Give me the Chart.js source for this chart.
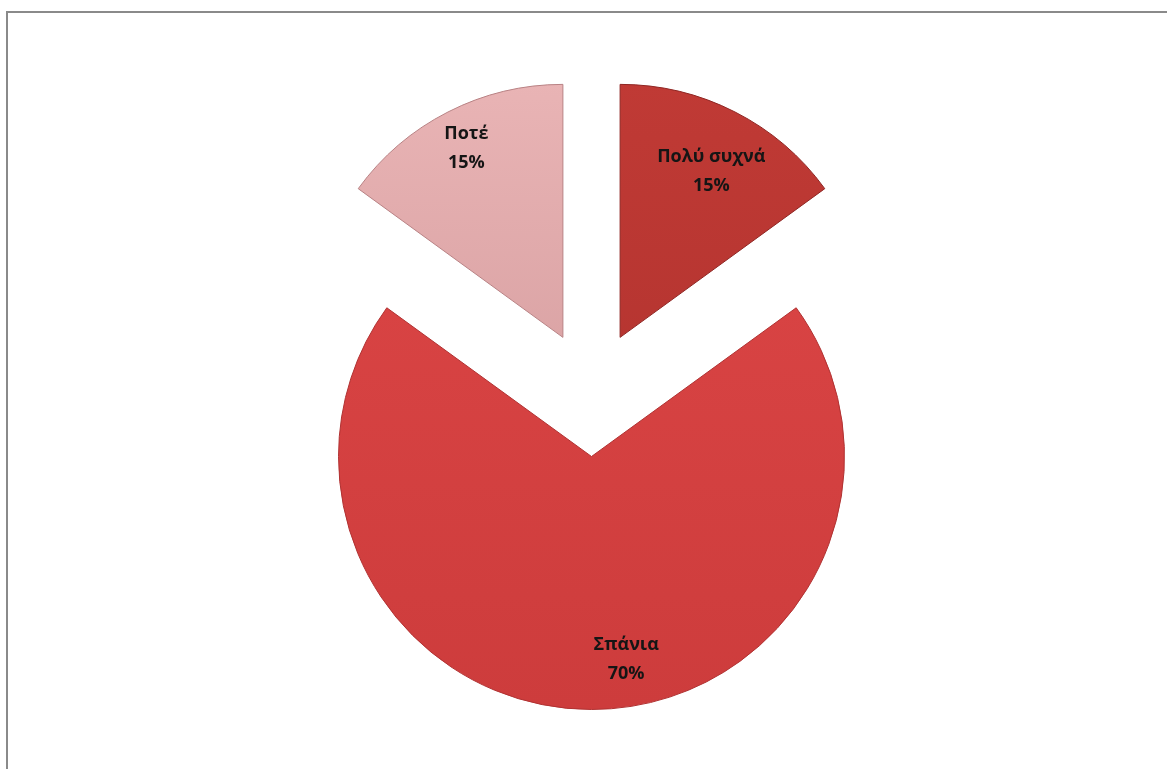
<!DOCTYPE html>
<html lang="el">
<head>
  <meta charset="UTF-8">
  <title>Συχνότητα</title>
  <script src="https://cdn.jsdelivr.net/npm/chart.js"></script>
  <style>
    html, body { margin: 0; padding: 0; background: #fff; }
    canvas { display: block; }
  </style>
</head>
<body>
  <canvas id="pieChart" width="1167" height="769"></canvas>

  <script>
    // Data
    const categories = ['Πολύ συχνά', 'Σπάνια', 'Ποτέ'];
    const values = [15, 70, 15];

    // Slice colours: top shade, bottom shade, edge
    const topColors = ['#c03a35', '#de4747', '#e9b4b5'];
    const bottomColors = ['#aa2f2b', '#cd3c3c', '#c98f91'];
    const edgeColors = ['#8f2623', '#b03232', '#b88284'];

    const explode = 63;

    // label placement: fraction of radius, angle shift (radians) from mid angle
    const labelPlace = [
      { r: 0.75, da: 0.03 },
      { r: 0.81, da: -0.17 },
      { r: 0.84, da: 0.0 }
    ];

    function sliceGradient(context) {
      const chart = context.chart;
      const area = chart.chartArea;
      const i = context.dataIndex;
      if (!area) return topColors[i];
      const g = chart.ctx.createLinearGradient(0, area.top - 60, 0, area.bottom + 60);
      g.addColorStop(0, topColors[i]);
      g.addColorStop(1, bottomColors[i]);
      return g;
    }

    // pull every slice out from the centre along its mid angle
    const explodePlugin = {
      id: 'explode',
      afterDatasetUpdate(chart, args) {
        args.meta.data.forEach(arc => {
          const mid = (arc.startAngle + arc.endAngle) / 2;
          arc.x += Math.cos(mid) * explode;
          arc.y += Math.sin(mid) * explode;
        });
      }
    };

    // thin grey frame on the top and left
    const framePlugin = {
      id: 'frame',
      beforeDraw(chart) {
        const ctx = chart.ctx;
        ctx.save();
        ctx.strokeStyle = '#8a8a8a';
        ctx.lineWidth = 2;
        ctx.beginPath();
        ctx.moveTo(7, chart.height);
        ctx.lineTo(7, 12);
        ctx.lineTo(chart.width, 12);
        ctx.stroke();
        ctx.restore();
      }
    };

    // category name and percentage inside each slice
    const labelPlugin = {
      id: 'sliceLabels',
      afterDatasetsDraw(chart) {
        const ctx = chart.ctx;
        const meta = chart.getDatasetMeta(0);
        const total = values.reduce((a, b) => a + b, 0);
        ctx.save();
        ctx.fillStyle = '#151515';
        ctx.font = 'bold 18px "Open Sans", "Liberation Sans", sans-serif';
        ctx.textAlign = 'center';
        ctx.textBaseline = 'middle';
        meta.data.forEach((arc, i) => {
          const a = (arc.startAngle + arc.endAngle) / 2 + labelPlace[i].da;
          const d = arc.outerRadius * labelPlace[i].r;
          const x = arc.x + Math.cos(a) * d;
          const y = arc.y + Math.sin(a) * d;
          const pct = Math.round(values[i] / total * 100) + '%';
          ctx.fillText(categories[i], x, y - 14);
          ctx.fillText(pct, x, y + 15);
        });
        ctx.restore();
      }
    };

    const ctx = document.getElementById('pieChart').getContext('2d');
    new Chart(ctx, {
      type: 'pie',
      data: {
        labels: categories,
        datasets: [{
          data: values,
          backgroundColor: sliceGradient,
          borderColor: edgeColors,
          borderWidth: 1,
          offset: 0,
          hoverOffset: 0
        }]
      },
      options: {
        responsive: false,
        animation: false,
        events: [],
        layout: {
          padding: { left: 292, right: 276, top: 140, bottom: 122 }
        },
        plugins: {
          legend: { display: false },
          tooltip: { enabled: false }
        }
      },
      plugins: [framePlugin, explodePlugin, labelPlugin]
    });
  </script>
</body>
</html>
